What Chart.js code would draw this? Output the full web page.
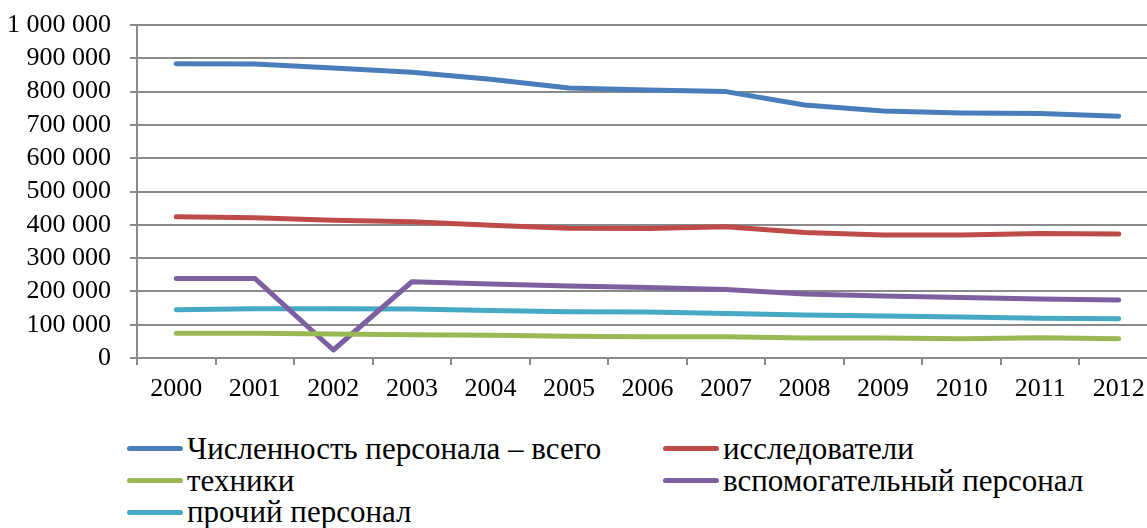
<!DOCTYPE html>
<html>
<head>
<meta charset="utf-8">
<title>Численность персонала</title>
<script src="https://cdn.jsdelivr.net/npm/chart.js@4/dist/chart.umd.min.js"></script>
<style>
    html, body { margin: 0; padding: 0; background: #fff; overflow: hidden; }
    #wrap { position: absolute; left: 0; top: 0; width: 1160px; height: 420px; }
    #legend {
        position: absolute; left: 127px; top: 433px;
        display: grid; grid-template-columns: 536px 480px;
        font-size: 31px; line-height: 31.7px; color: #000;
    }
    #legend div { display: flex; align-items: center; white-space: nowrap; font-family: 'Liberation Serif', serif; }
    #legend span.mark { display: inline-block; width: 56px; height: 5px; border-radius: 3px; margin-right: 4px; flex: none; }
</style>
</head>
<body>
<div id="wrap"><canvas id="grafico"></canvas></div>
<div id="legend"></div>
<script>
const anos = ["2000", "2001", "2002", "2003", "2004", "2005", "2006", "2007", "2008", "2009", "2010", "2011", "2012"];

const totalPessoal  = [884000, 883000, 871000, 858000, 837000, 811000, 805000, 800000, 760000, 742000, 736000, 734000, 726000];
const pesquisadores = [424000, 421000, 414000, 409000, 399000, 390000, 389000, 394000, 377000, 369000, 369000, 374000, 372000];
const tecnicos      = [74000, 74000, 72000, 70000, 68000, 65000, 64000, 64000, 60000, 60000, 58000, 61000, 58000];
const auxiliares    = [239000, 239000, 24000, 229000, 222000, 216000, 212000, 206000, 192000, 186000, 182000, 177000, 174000];
const outros        = [145000, 148000, 148000, 147000, 143000, 139000, 138000, 134000, 129000, 126000, 123000, 119000, 118000];

const ticksY = [0, 100000, 200000, 300000, 400000, 500000, 600000, 700000, 800000, 900000, 1000000];

const series = [
    { label: "Численность персонала – всего", data: totalPessoal, cor: "#4A7EBB" },
    { label: "исследователи", data: pesquisadores, cor: "#BE4B48" },
    { label: "техники", data: tecnicos, cor: "#98B954" },
    { label: "вспомогательный персонал", data: auxiliares, cor: "#7D60A0" },
    { label: "прочий персонал", data: outros, cor: "#46AAC5" }
];

function formatarNumero(v) {
    return String(v).replace(/\B(?=(\d{3})+(?!\d))/g, " ");
}

const fonte = { family: "'Liberation Serif', serif", size: 26 };
const cinza = "#8a8a8a";

const grafico = new Chart(document.getElementById("grafico"), {
    type: "line",
    data: {
        labels: anos,
        datasets: series.map(s => ({
            label: s.label,
            data: s.data,
            borderColor: s.cor,
            backgroundColor: s.cor,
            borderWidth: 5,
            pointRadius: 0,
            tension: 0,
            borderCapStyle: "round",
            borderJoinStyle: "round"
        }))
    },
    options: {
        responsive: true,
        maintainAspectRatio: false,
        animation: false,
        layout: { padding: { top: 0, right: 2, left: 0, bottom: 0 } },
        plugins: {
            legend: { display: false },
            tooltip: { enabled: false }
        },
        scales: {
            x: {
                offset: true,
                grid: { offset: true, drawOnChartArea: false, drawTicks: true, tickLength: 7, color: cinza, lineWidth: 2 },
                border: { color: cinza, width: 2 },
                ticks: { color: "#000", font: fonte, padding: 9, maxRotation: 0, autoSkip: false },
                afterFit: scale => { scale.height = 62; }
            },
            y: {
                min: 0,
                max: 1000000,
                afterBuildTicks: scale => { scale.ticks = ticksY.map(v => ({ value: v })); },
                grid: { color: cinza, lineWidth: 2, tickLength: 7 },
                border: { color: cinza, width: 2 },
                ticks: { color: "#000", font: fonte, padding: 19, autoSkip: false, callback: v => formatarNumero(v) },
                // o padding dos ticks empurrava a área do gráfico para baixo
                afterFit: scale => { scale.width = 137; scale.paddingTop = 25; scale.paddingBottom = 0; }
            }
        }
    }
});

/* legenda em duas colunas, como no original */
const caixa = document.getElementById("legend");
grafico.data.datasets.forEach(ds => {
    const item = document.createElement("div");
    const marca = document.createElement("span");
    marca.className = "mark";
    marca.style.background = ds.borderColor;
    item.appendChild(marca);
    item.appendChild(document.createTextNode(ds.label));
    caixa.appendChild(item);
});
</script>
</body>
</html>
